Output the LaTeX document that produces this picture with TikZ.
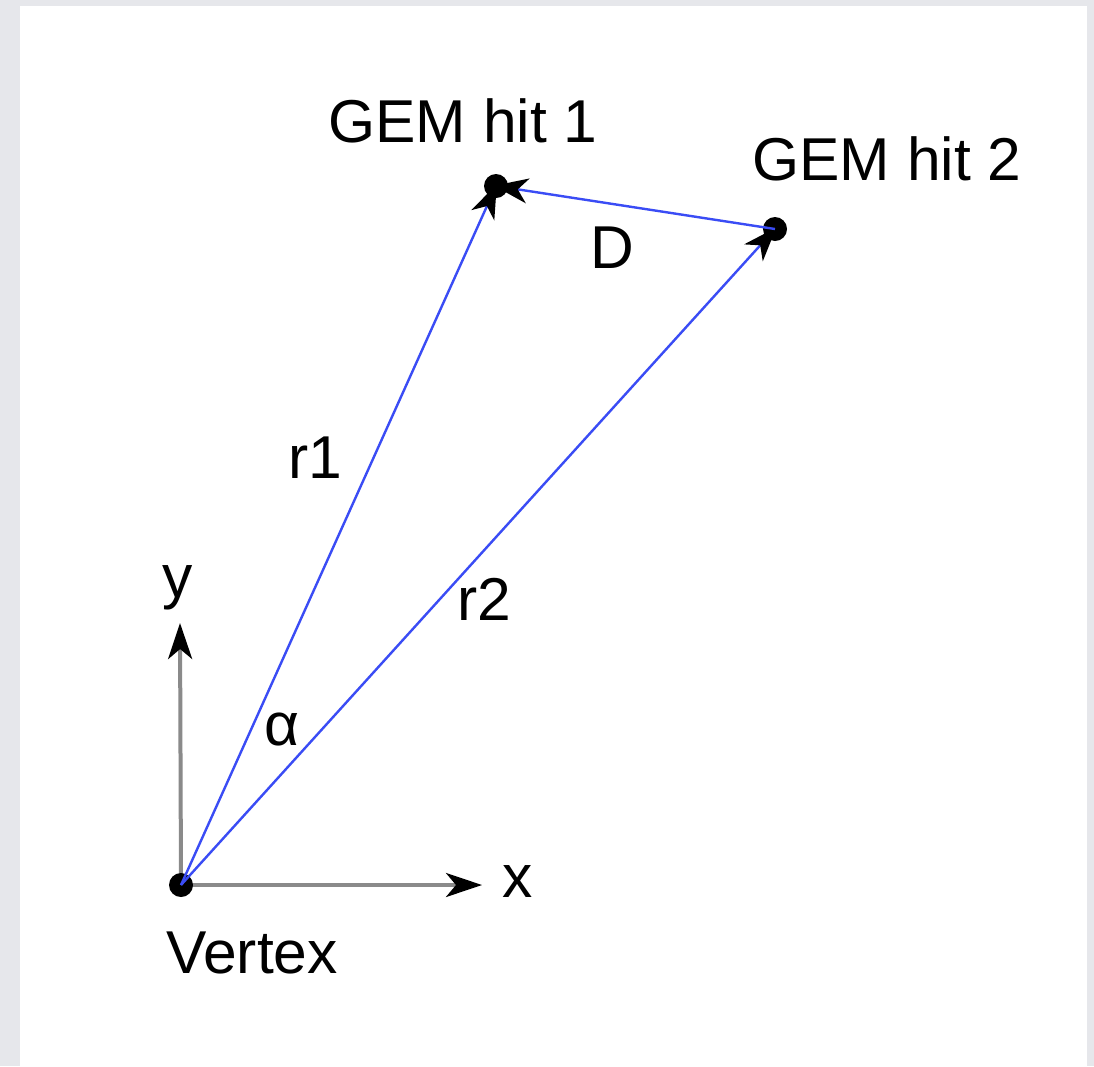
\documentclass[tikz,border=0pt]{standalone}
\usepackage{fontspec}
\setmainfont{Liberation Sans}
\usetikzlibrary{arrows.meta}
\definecolor{bggray}{HTML}{E6E7EB}
\definecolor{axgray}{HTML}{8A8A8A}
\definecolor{vecblue}{HTML}{3A4CF5}
\tikzset{
  lbl/.style={anchor=base,inner sep=0pt,font=\fontsize{60.5}{72}\selectfont},
  dotpt/.style={circle,fill=black,inner sep=0pt,minimum size=24pt},
  axisline/.style={draw=axgray,line width=4pt,-{Stealth[length=36pt,width=24pt,inset=10pt,black]}},
  vecline/.style={draw=vecblue,line width=2.4pt,-{Stealth[length=34pt,width=25pt,inset=10pt,black]},shorten >=-2pt},
}
\begin{document}
\begin{tikzpicture}[x=1pt,y=-1pt]
\fill[bggray] (0,0) rectangle (1094,1066);
\fill[white] (20,6) rectangle (1087,1066);
\useasboundingbox (0,0) rectangle (1094,1066);
\coordinate (O) at (181,885);
\coordinate (H1) at (496,186);
\coordinate (H2) at (775,229);
\coordinate (YT) at (180,623);
\coordinate (XT) at (482,885);
\draw[axisline] (O) -- (YT);
\draw[axisline] (O) -- (XT);
\node[dotpt] (dO) at (O) {};
\node[dotpt] (d1) at (H1) {};
\node[dotpt] (d2) at (H2) {};
\draw[vecline] (O) -- (H1);
\draw[vecline] (O) -- (H2);
\draw[vecline] (H2) -- (H1);
\node[lbl] (lh1) at (463,142) {GEM hit 1};
\node[lbl] (lh2) at (887,180) {GEM hit 2};
\node[lbl] (lD) at (612,268) {D};
\node[lbl] (lr1) at (315,478) {r1};
\node[lbl] (lr2) at (484,620) {r2};
\node[lbl] (ly) at (178,597) {y};
\node[lbl] (lx) at (518,897) {x};
\node[lbl] (la) at (282,745) {α};
\node[lbl] (lv) at (252,973) {Vertex};
\end{tikzpicture}
\end{document}
